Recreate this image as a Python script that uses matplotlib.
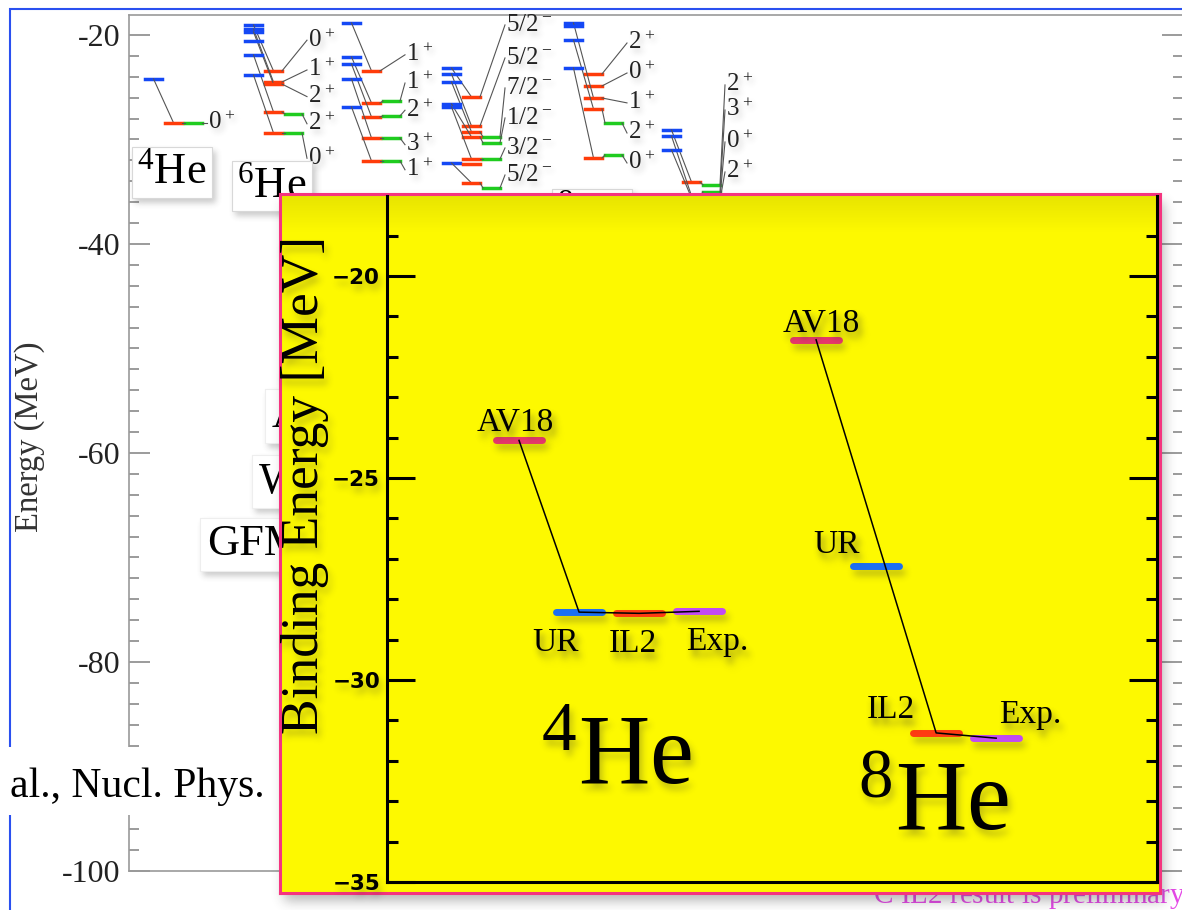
import numpy as np
import matplotlib
matplotlib.use("Agg")
import matplotlib.pyplot as plt
from matplotlib.patches import Rectangle

plt.rcParams["font.family"] = ["Liberation Serif", "DejaVu Serif"]
plt.rcParams["mathtext.fontset"] = "custom"
plt.rcParams["mathtext.rm"] = "Liberation Serif"
plt.rcParams["mathtext.default"] = "regular"

W, H = 1182, 910
nan = np.nan

# ---- background spectra (MeV): per state blue -> red -> green, then spin label
he4_blue = [-24.2]
he4_red = [-28.4]
he4_green = [-28.4]
he4_spin = ["0$^+$"]
he4_spin_E = [-28.4]

he6_blue = [-19.04, -19.43, -19.71, -21.91, -23.83]
he6_red = [-23.44, -24.5, -24.7, -27.37, -29.38]
he6_green = [nan, nan, nan, -27.56, -29.38]
he6_spin = ["0$^+$", "1$^+$", "2$^+$", "2$^+$", "0$^+$"]
he6_spin_E = [-20.5, -23.35, -25.9, -28.5, -31.8]
he6_extra_blue = [-20.57]

li6_blue = [-18.85, -22.11, -22.78, -24.21, -26.89]
li6_red = [-23.44, -26.51, -27.85, -29.86, -32.06]
li6_green = [nan, -26.32, -27.75, -29.86, -32.06]
li6_spin = ["1$^+$", "1$^+$", "2$^+$", "3$^+$", "1$^+$"]
li6_spin_E = [-21.9, -24.6, -27.2, -30.5, -32.9]

li7_blue = [-23.16, -23.73, -24.5, -26.6, -26.89, -32.25]
li7_red = [-25.93, -28.71, -29.28, -29.76, -31.87, -34.16]
li7_green = [nan, nan, -29.76, -30.33, -31.87, -34.64]
li7_spin = ["5/2$^-$", "5/2$^-$", "7/2$^-$", "1/2$^-$", "3/2$^-$", "5/2$^-$"]
li7_spin_E = [-19.04, -22.2, -25.07, -27.94, -30.81, -33.4]
li7_extra_red = [-32.34]

he8_blue = [nan, nan, -18.85, -20.48, -23.16]
he8_red = [-23.73, -24.88, -26.03, -27.08, -31.77]
he8_green = [nan, nan, nan, -28.42, -31.48]
he8_spin = ["2$^+$", "0$^+$", "1$^+$", "2$^+$", "0$^+$"]
he8_spin_E = [-20.77, -23.64, -26.5, -29.38, -32.25]
he8_extra_blue = [-19.1]

c6_blue = [-29.09, -29.67, -31.0, nan]
c6_red = [-34.07, -35.4, -35.6, nan]
c6_green = [-34.35, -35.02, -35.6, -35.8]
c6_spin = ["2$^+$", "3$^+$", "0$^+$", "2$^+$"]
c6_spin_E = [-24.78, -27.18, -30.24, -33.11]

# ---- inset: ground-state binding energies (MeV)
methods = ["AV18", "UR", "IL2", "Exp."]
method_colors = ["#e8386c", "#1b6ff2", "#ff3b12", "#c24cf4"]
he4_energy = [-24.07, -28.32, -28.35, -28.30]
he8_energy = [-21.58, -27.18, -31.31, -31.44]
he4_path = [0, 1, 2, 3]
he8_path = [0, 2, 3]


def _blur(a, sigma):
    r = max(1, int(3 * sigma))
    k = np.exp(-0.5 * (np.arange(-r, r + 1) / sigma) ** 2)
    k /= k.sum()
    h, w = a.shape
    p = np.pad(a, r)
    tmp = sum(k[i] * p[:, i:i + w] for i in range(2 * r + 1))
    return sum(k[i] * tmp[i:i + h, :] for i in range(2 * r + 1))


def drop_shadow(sigma=3.0, dx=3, dy=5, alpha=0.35, color=(0.2, 0.2, 0.2)):
    def _filter(im, dpi):
        pad = int(3 * sigma) + max(abs(dx), abs(dy)) + 2
        src = np.pad(im, [(pad, pad), (pad, pad), (0, 0)])
        a = src[..., 3]
        sh = np.roll(np.roll(a, dy, axis=0), dx, axis=1)
        sh = _blur(sh, sigma) * alpha
        out_a = a + sh * (1 - a)
        rgb = src[..., :3] * a[..., None] + np.array(color) * (sh * (1 - a))[..., None]
        out = np.zeros_like(src)
        out[..., :3] = rgb / np.maximum(out_a, 1e-6)[..., None]
        out[..., 3] = out_a
        return out, -pad, -pad
    return _filter


def px_axes(x0, y0, x1, y1, **kw):
    return fig.add_axes([x0 / W, 1 - y1 / H, (x1 - x0) / W, (y1 - y0) / H], **kw)


fig = plt.figure(figsize=(W / 100, H / 100), dpi=100)
fig.patch.set_facecolor("white")

# slide frame
fig.add_artist(Rectangle((10 / W, -0.05), 1.2, (H - 9) / H + 0.05, transform=fig.transFigure,
                         fill=False, ec="#2a50f0", lw=1.5, zorder=1))

# ---------------- background level scheme ----------------
ax = px_axes(129, 15, 1183, 871)
ax.set_ylim(-100, -18.09)
ax.set_xlim(-0.16, 10.38)
ax.set_xticks([])
majors = [-100, -80, -60, -40, -20]
ax.set_yticks(majors, labels=[str(m) for m in majors])
ax.set_yticks([v for v in range(-98, -18, 2) if v not in majors], minor=True)
ax.tick_params(which="both", direction="in", left=True, right=True, color="#8a8a8a",
               width=1.2, labelsize=23, labelcolor="#222222", pad=6)
ax.tick_params(which="major", length=15)
ax.tick_params(which="minor", length=7.5)
for s in ax.spines.values():
    s.set_color("#9a9a9a")
    s.set_linewidth(1.2)

BLUE, RED, GREEN = "#1448f5", "#ff3c0a", "#1fcc1f"
BW = 0.17
bg_shadow = drop_shadow(sigma=3, dx=3, dy=4, alpha=0.25)


def draw_column(x0, blue, red, green, spin, spin_E, extra_blue=(), extra_red=()):
    bx, rx, gx = x0, x0 + 0.20, x0 + 0.40
    for b, r, g, s, se in zip(blue, red, green, spin, spin_E):
        if not np.isnan(b):
            ax.plot([bx, bx + BW], [b, b], color=BLUE, lw=2.5)
            if not np.isnan(r):
                ax.plot([bx + BW / 2, rx + BW / 2], [b, r], color="#555555", lw=0.8)
        end = None
        if not np.isnan(r):
            ax.plot([rx, rx + BW], [r, r], color=RED, lw=2.5)
            end = (rx + BW, r)
        if not np.isnan(g):
            ax.plot([gx, gx + BW], [g, g], color=GREEN, lw=2.5)
            if end is not None:
                ax.plot([end[0], gx], [end[1], g], color="#555555", lw=0.8)
            end = (gx + BW, g)
        if end is not None:
            ax.plot([end[0], x0 + 0.62], [end[1], se], color="#555555", lw=0.8)
        t = ax.text(x0 + 0.63, se, s, fontsize=18, va="center", ha="left", color="#222222")
        t.set_agg_filter(bg_shadow)
    for b in extra_blue:
        ax.plot([bx, bx + BW], [b, b], color=BLUE, lw=2.5)
    for r in extra_red:
        ax.plot([rx, rx + BW], [r, r], color=RED, lw=2.5)


draw_column(0.0, he4_blue, he4_red, he4_green, he4_spin, he4_spin_E)
draw_column(1.0, he6_blue, he6_red, he6_green, he6_spin, he6_spin_E, extra_blue=he6_extra_blue)
draw_column(1.98, li6_blue, li6_red, li6_green, li6_spin, li6_spin_E)
draw_column(2.98, li7_blue, li7_red, li7_green, li7_spin, li7_spin_E, extra_red=li7_extra_red)
draw_column(4.2, he8_blue, he8_red, he8_green, he8_spin, he8_spin_E, extra_blue=he8_extra_blue)
draw_column(5.18, c6_blue, c6_red, c6_green, c6_spin, c6_spin_E)

box = dict(boxstyle="square,pad=0.12", fc="white", ec="#d8d8d8", lw=0.8)
for name, x, y in [("$^4$He", 0.27, -34.2), ("$^6$He", 1.27, -35.5),
                   ("$^6$Li", 2.27, -38.7), ("$^8$He", 4.47, -38.2)]:
    t = ax.text(x, y, name, fontsize=32, ha="center", va="baseline", bbox=box)
    t.set_agg_filter(bg_shadow)

for name, x, y in [("AV18", 1.27, -57.5), ("WS", 1.14, -63.8), ("GFMC", 0.62, -69.8)]:
    t = ax.text(x, y, name, fontsize=32, ha="left", va="baseline",
                bbox=dict(boxstyle="square,pad=0.15", fc="white", ec="#eeeeee", lw=0.8))
    t.set_agg_filter(bg_shadow)

fig.text(30 / W, 1 - 437 / H, "Energy (MeV)", rotation=90, ha="center", va="center",
         fontsize=23.5, color="#333333")

# citation strip on the left
fig.add_artist(Rectangle((0, 1 - 815 / H), 275 / W, 68 / H, transform=fig.transFigure,
                         fc="white", ec="none", zorder=3))
fig.text(10 / W, 1 - 797 / H, "al., Nucl. Phys.", fontsize=30, va="baseline", ha="left", zorder=3.5)

fig.text(852 / W, 1 - 904 / H, "$^{12}$C IL2 result is preliminary", fontsize=21,
         color="#e448e6", va="baseline", ha="left", zorder=4)

# ---------------- inset: binding energies ----------------
panel = px_axes(280, 194, 1160, 893, zorder=5)
panel.set_facecolor("#fdf900")
panel.set_xticks([])
panel.set_yticks([])
panel.set_xlim(0, 1)
panel.set_ylim(0, 1)
for s in panel.spines.values():
    s.set_color("#f5347f")
    s.set_linewidth(2.2)
panel.patch.set_agg_filter(drop_shadow(sigma=6, dx=4, dy=8, alpha=0.35))
# soft shade under the top edge of the panel
shade = np.zeros((40, 1, 4))
shade[..., 3] = np.linspace(0.0, 0.09, 40)[:, None]
panel.imshow(shade, extent=[0, 1, 1 - 40 / 699, 1], transform=panel.transAxes,
             aspect="auto", origin="lower", interpolation="bilinear", zorder=0.5)

ax_in = px_axes(387, 196, 1157, 882, zorder=6)
ax_in.patch.set_visible(False)
ax_in.set_ylim(-35, -18.02)
ax_in.set_xlim(0, 12.83)
ax_in.set_xticks([])
in_majors = [-35, -30, -25, -20]
ax_in.set_yticks(in_majors, labels=["\u2212%d" % -m for m in in_majors])
ax_in.set_yticks([v for v in range(-34, -18) if v not in in_majors], minor=True)
ax_in.tick_params(which="both", direction="in", left=True, right=True, color="black",
                  width=2.2, labelsize=15.5, pad=5)
ax_in.tick_params(which="major", length=20)
ax_in.tick_params(which="minor", length=8)
ax_in.spines["top"].set_visible(False)
for k in ("left", "right", "bottom"):
    ax_in.spines[k].set_linewidth(2.2)
    ax_in.spines[k].set_color("black")

shadow = drop_shadow(sigma=3.5, dx=3, dy=6, alpha=0.3)
for t in ax_in.get_yticklabels():
    t.set_fontfamily("DejaVu Sans")
    t.set_fontweight("bold")
for tk in ax_in.yaxis.get_major_ticks():
    tk.label1.set_agg_filter(shadow)

ax_in.text(305 / W, 1 - 485 / H, "Binding Energy [MeV]", transform=fig.transFigure,
           rotation=90, ha="center", va="center", fontsize=38.5).set_agg_filter(shadow)

HALF = 0.383
he4_offsets = [(-4, 10, "center"), (-24, -39, "center"), (-6, -39, "center"), (18, -39, "center")]
he8_offsets = [(5, 8, "center"), (-16, 13, "right"), (-45, 15, "center"), (34, 15, "center")]

for base, energy, path, offsets in [(2.2, he4_energy, he4_path, he4_offsets),
                                    (7.15, he8_energy, he8_path, he8_offsets)]:
    xs = [base + i for i in range(len(methods))]
    for x, e, c, name, (dx, dy, ha) in zip(xs, energy, method_colors, methods, offsets):
        bar, = ax_in.plot([x - HALF, x + HALF], [e, e], color=c, lw=5, solid_capstyle="round", zorder=3)
        bar.set_agg_filter(shadow)
        a = ax_in.annotate(name, (x, e), xytext=(dx * 0.72, dy * 0.72), textcoords="offset points",
                           ha=ha, va="baseline", fontsize=24)
        a.set_agg_filter(shadow)
    ax_in.plot([xs[i] for i in path], [energy[i] for i in path], color="black", lw=1.1, zorder=4)

ax_in.text(3.83, -32.55, "$^4$He", fontsize=71, ha="center", va="baseline").set_agg_filter(shadow)
ax_in.text(9.1, -33.71, "$^8$He", fontsize=71, ha="center", va="baseline").set_agg_filter(shadow)

fig.savefig("out.png", dpi=100)
